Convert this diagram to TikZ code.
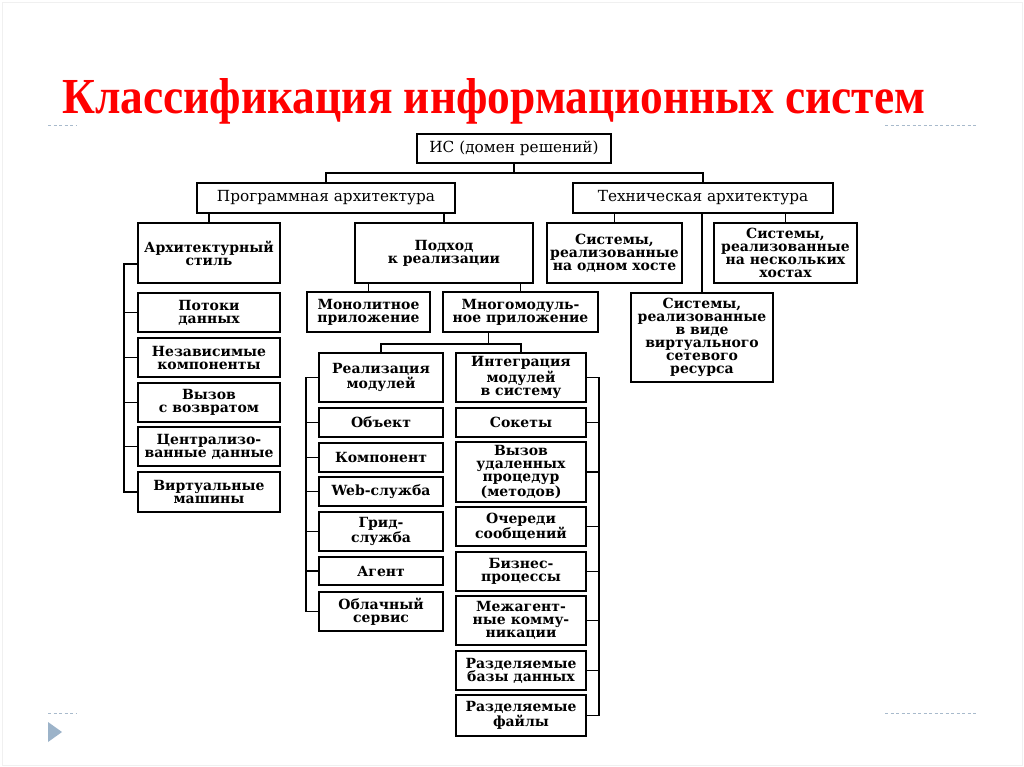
\documentclass[tikz,border=0pt]{standalone}
\usepackage{fontspec}
\setmainfont{DejaVu Serif}
\newfontfamily\titlefont{Liberation Serif}
\usetikzlibrary{calc}
\definecolor{titlered}{HTML}{FF0000}
\definecolor{decoblue}{HTML}{A8BACC}
\definecolor{triblue}{HTML}{9CB3C9}
\newcommand\bx[7]{\node[#1, minimum width={#5-#3}, minimum height={#6-#4}] (#2) at ({(#3+#5)/2},{(#4+#6)/2}) {#7};}
\begin{document}
\begin{tikzpicture}[x=1pt,y=-1pt,
  box/.style={draw,line width=1.8pt,inner sep=0pt,align=center,font=\bfseries\fontsize{14}{13}\selectfont},
  topbox/.style={draw,line width=1.8pt,inner sep=0pt,align=center,font=\fontsize{15.3}{15}\selectfont},
  conn/.style={line width=1.6pt},
  deco/.style={draw=decoblue,line width=1pt,dash pattern=on 3pt off 2.5pt}]
\useasboundingbox (0,0) rectangle (1024,767);
\fill[white] (0,0) rectangle (1024,767);
\draw[black!6,line width=0.8pt] (2,2) rectangle (1022,765);

% title
\node[anchor=base west,inner sep=0pt,text=titlered] (title) at (62,114)
  {\resizebox{863pt}{35pt}{\titlefont\bfseries Классификация информационных систем}};

% decorations
\draw[deco] (48,126) -- (76,126);
\draw[deco] (885,126) -- (976,126);
\draw[deco] (48,713) -- (77,713);
\draw[deco] (885,713) -- (976,713);
\fill[triblue] (48,722) -- (62,732) -- (48,742) -- cycle;

% top levels
\bx{topbox}{is}{417}{134}{611}{163}{ИС (домен решений)}
\bx{topbox}{pa}{197}{183}{455}{213}{Программная архитектура}
\bx{topbox}{ta}{573}{183}{833}{213}{Техническая архитектура}

\bx{box}{as}{138}{223}{280}{283}{Архитектурный\\стиль}
\bx{box}{pr}{355}{223}{533}{283}{Подход\\к реализации}
\bx{box}{s1}{547}{223}{682}{283}{Системы,\\реализованные\\на одном хосте}
\bx{box}{s2}{714}{223}{857}{283}{Системы,\\реализованные\\на нескольких\\хостах}
\bx{box}{s3}{631}{293}{773}{382}{Системы,\\реализованные\\в виде\\виртуального\\сетевого\\ресурса}

\bx{box}{mo}{307}{292}{430}{332}{Монолитное\\приложение}
\bx{box}{mm}{443}{292}{598}{332}{Многомодуль-\\ное приложение}

% architectural styles
\bx{box}{pd}{138}{293}{280}{332}{Потоки\\данных}
\bx{box}{nk}{138}{338}{280}{377}{Независимые\\компоненты}
\bx{box}{vv}{138}{383}{280}{422}{Вызов\\с возвратом}
\bx{box}{cd}{138}{427}{280}{466}{Централизо-\\ванные данные}
\bx{box}{vm}{138}{472}{280}{512}{Виртуальные\\машины}

% module implementation
\bx{box}{rm}{319}{353}{443}{402}{Реализация\\модулей}
\bx{box}{ob}{319}{408}{443}{437}{Объект}
\bx{box}{ko}{319}{443}{443}{472}{Компонент}
\bx{box}{ws}{319}{477}{443}{506}{Web-служба}
\bx{box}{gs}{319}{512}{443}{551}{Грид-\\служба}
\bx{box}{ag}{319}{557}{443}{585}{Агент}
\bx{box}{os}{319}{592}{443}{631}{Облачный\\сервис}

% integration
\bx{box}{im}{456}{353}{586}{402}{Интеграция\\модулей\\в систему}
\bx{box}{sk}{456}{408}{586}{437}{Сокеты}
\bx{box}{vu}{456}{442}{586}{502}{Вызов\\удаленных\\процедур\\(методов)}
\bx{box}{oc}{456}{507}{586}{546}{Очереди\\сообщений}
\bx{box}{bp}{456}{552}{586}{591}{Бизнес-\\процессы}
\bx{box}{mk}{456}{596}{586}{645}{Межагент-\\ные комму-\\никации}
\bx{box}{rb}{456}{651}{586}{690}{Разделяемые\\базы данных}
\bx{box}{rf}{456}{695}{586}{736}{Разделяемые\\файлы}

% connectors
\coordinate (bus1) at (is.south |- 0,173);
\draw[conn] (is.south) -- (bus1);
\draw[conn] (pa.north) |- (bus1) -| (ta.north);
\draw[conn] (pa.south -| as.north) -- (as.north);
\draw[conn] (pa.south -| pr.north) -- (pr.north);
\draw[conn] (pr.south -| mo.north) -- (mo.north);
\draw[conn] (pr.south -| mm.north) -- (mm.north);
\draw[conn] (ta.south -| s1.north) -- (s1.north);
\draw[conn] (ta.south -| s2.north) -- (s2.north);
\draw[conn] (ta.south -| s3.north) -- (s3.north);

\coordinate (mmb) at ($(mm.south)+(-32,0)$);
\coordinate (bus2) at ($(mmb)+(0,11)$);
\draw[conn] (mmb) -- (bus2);
\draw[conn] (rm.north) |- (bus2) -| (im.north);

\coordinate (asb) at ($(as.south west)+(0,-20)$);
\draw[conn] (asb) -- ++(-13,0) |- (vm.west);
\foreach \n in {pd,nk,vv,cd} \draw[conn] (\n.west) -- ++(-13,0);

\draw[conn] (rm.west) -- ++(-12,0) |- (os.west);
\foreach \n in {ob,ko,ws,gs,ag} \draw[conn] (\n.west) -- ++(-12,0);

\draw[conn] (im.east) -- ++(12,0) |- (rf.east);
\foreach \n in {sk,vu,oc,bp,mk,rb} \draw[conn] (\n.east) -- ++(12,0);
\end{tikzpicture}
\end{document}
